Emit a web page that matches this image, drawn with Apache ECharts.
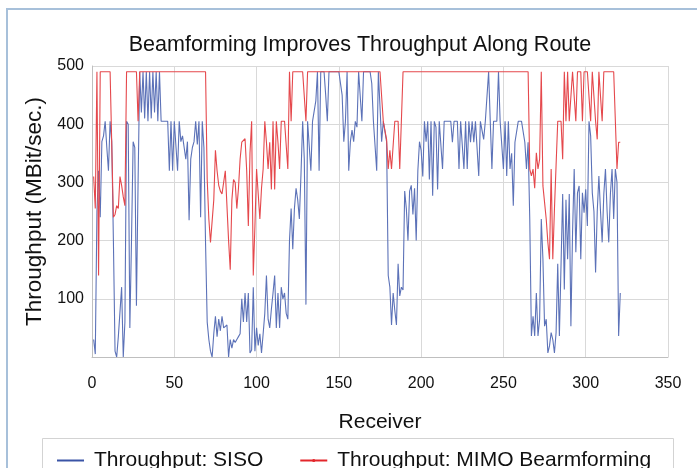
<!DOCTYPE html>
<html>
<head>
<meta charset="utf-8">
<script src="https://cdn.jsdelivr.net/npm/echarts@6/dist/echarts.min.js"></script>
<style>
html,body{margin:0;padding:0;background:#fff;}
#chart{width:697px;height:468px;}
</style>
</head>
<body>
<div id="chart"></div>
<script>
const chartTitle = 'Beamforming Improves Throughput Along Route';
const xAxisName = 'Receiver';
const yAxisName = 'Throughput (MBit/sec.)';
const seriesNames = ['Throughput: SISO', 'Throughput: MIMO Bearmforming'];
const xTicks = [0, 50, 100, 150, 200, 250, 300, 350];
const yTicks = [0, 100, 200, 300, 400, 500];

// Receiver 1..321
const sisoValues = [
  30,5,250,320,240,370,380,405,360,320,
  405,370,200,10,0,35,35,120,0,60,
  405,400,50,200,370,360,88,300,490,420,
  490,410,490,405,490,410,490,420,490,405,
  490,405,405,405,405,405,320,405,320,405,
  405,320,405,370,380,360,340,370,235,340,
  360,370,405,365,405,240,405,360,195,60,
  30,10,0,40,70,35,65,45,70,50,
  50,55,0,30,15,30,25,30,35,40,
  100,60,110,60,110,7,12,120,10,50,
  20,40,7,40,75,140,65,50,82,110,
  140,50,110,50,120,100,110,75,65,200,
  255,185,255,290,270,237,315,405,340,90,
  405,405,320,405,405,440,490,320,490,490,
  490,450,405,490,490,490,490,490,490,490,
  490,450,370,405,490,320,370,390,370,405,
  395,490,490,405,490,490,490,490,490,470,
  405,405,320,490,490,370,405,405,370,140,
  120,55,110,80,55,160,105,120,115,285,
  255,200,285,295,245,290,200,320,370,355,
  310,405,370,405,305,405,277,405,395,288,
  405,405,323,405,405,405,405,405,369,405,
  405,405,323,405,405,323,405,323,405,369,
  405,369,405,405,311,405,405,374,405,405,
  490,405,323,405,405,405,490,405,405,323,
  405,311,405,323,350,260,369,369,405,405,
  405,405,369,323,369,237,36,70,36,110,
  36,65,237,168,53,65,7,19,42,30,
  7,42,160,36,36,280,116,270,168,280,
  53,213,323,180,282,294,168,282,248,288,
  225,405,380,282,250,145,250,311,250,197,
  280,323,250,197,280,323,237,323,300,36,110
];

const mimoValues = [
  310,255,490,140,490,490,490,490,490,490,
  490,490,240,245,260,255,310,295,275,260,
  490,490,490,490,490,490,490,405,490,490,
  490,490,490,490,490,490,490,490,490,490,
  490,490,490,490,490,490,490,490,490,490,
  490,490,490,490,490,490,490,490,490,490,
  490,490,490,490,490,490,490,490,490,305,
  237,197,200,270,355,320,295,285,280,300,
  320,323,200,150,270,305,300,255,290,340,
  369,369,375,320,225,350,405,140,225,323,
  323,237,290,323,405,369,323,369,288,405,
  288,405,369,323,405,405,405,405,323,490,
  405,490,490,490,490,490,490,490,490,405,
  490,490,490,490,490,490,490,490,490,490,
  490,490,490,490,490,490,490,490,490,490,
  490,490,490,490,490,490,490,490,490,490,
  490,490,490,490,490,490,490,490,490,490,
  490,490,490,490,490,490,405,405,374,323,
  355,323,323,405,405,405,323,323,490,490,
  490,490,490,490,490,490,490,490,490,490,
  490,490,490,490,490,490,490,490,490,490,
  490,490,490,490,490,490,490,490,490,490,
  490,490,490,490,490,490,490,490,490,490,
  490,490,490,490,490,490,490,490,490,490,
  490,490,490,490,490,490,490,490,490,490,
  490,490,490,490,490,490,490,490,490,490,
  490,490,490,490,490,323,311,323,290,351,
  323,340,490,294,294,237,197,168,323,168,
  254,330,405,405,405,340,490,405,490,405,
  405,490,490,405,490,490,490,405,490,490,
  490,490,405,490,490,405,374,490,490,405,
  490,490,490,490,490,490,490,490,323,369,369
];

const toPairs = vals => vals.map((v, i) => [i + 1, v]);

const FONT = '"Liberation Sans", Arial, Helvetica, sans-serif';
const chart = echarts.init(document.getElementById('chart'), null, {renderer: 'canvas'});
chart.setOption({
  animation: false,
  backgroundColor: '#ffffff',
  title: {
    text: chartTitle,
    left: 355,
    textAlign: 'center',
    top: 29,
    textStyle: {fontFamily: FONT, fontSize: 21.5, fontWeight: 'normal', color: '#111'}
  },
  graphic: [
    {type: 'rect', shape: {x: 7, y: 9, width: 800, height: 600}, style: {fill: 'none', stroke: '#a7c0da', lineWidth: 2}, silent: true, z: -1},
    {type: 'rect', shape: {x: 42.5, y: 438.5, width: 631, height: 60}, style: {fill: 'none', stroke: '#d3d3d3', lineWidth: 1}, silent: true, z: -1}
  ],
  legend: {
    left: 51,
    top: 445,
    itemWidth: 27,
    itemHeight: 4,
    itemGap: 36,
    textStyle: {fontFamily: FONT, fontSize: 21, color: '#111', padding: [0, 0, 0, 5]},
    data: [
      {name: seriesNames[0], itemStyle: {opacity: 0}, lineStyle: {color: '#3a54a6', width: 2}},
      {name: seriesNames[1], lineStyle: {color: '#e3262b', width: 2}}
    ]
  },
  grid: {left: 92, right: 29, top: 66, bottom: 111, containLabel: false},
  xAxis: {
    type: 'value',
    min: xTicks[0],
    max: xTicks[xTicks.length - 1],
    interval: 50,
    name: xAxisName,
    nameLocation: 'middle',
    nameGap: 55,
    nameTextStyle: {fontFamily: FONT, fontSize: 21, color: '#111'},
    axisLine: {show: true, lineStyle: {color: '#bfbfbf', width: 1}},
    axisTick: {show: false},
    axisLabel: {fontFamily: FONT, fontSize: 16, color: '#111', margin: 19},
    splitLine: {show: true, lineStyle: {color: '#d9d9d9', width: 1}}
  },
  yAxis: {
    type: 'value',
    min: yTicks[0],
    max: yTicks[yTicks.length - 1],
    interval: 100,
    name: yAxisName,
    nameLocation: 'middle',
    nameGap: 42,
    nameTextStyle: {fontFamily: FONT, fontSize: 22.5, color: '#111'},
    axisLine: {show: true, lineStyle: {color: '#bfbfbf', width: 1}},
    axisTick: {show: false},
    axisLabel: {fontFamily: FONT, fontSize: 16, color: '#111', margin: 8, showMinLabel: false},
    splitLine: {show: true, lineStyle: {color: '#d9d9d9', width: 1}}
  },
  series: [
    {
      name: seriesNames[0],
      type: 'line',
      data: toPairs(sisoValues),
      symbol: 'none',
      color: '#3a54a6',
      lineStyle: {color: '#5c72b8', width: 1.1},
      z: 2
    },
    {
      name: seriesNames[1],
      type: 'line',
      data: toPairs(mimoValues),
      symbol: 'circle',
      symbolSize: 3,
      showSymbol: false,
      color: '#e3262b',
      lineStyle: {color: '#e5484c', width: 1.1},
      z: 3
    }
  ]
});
</script>
</body>
</html>
